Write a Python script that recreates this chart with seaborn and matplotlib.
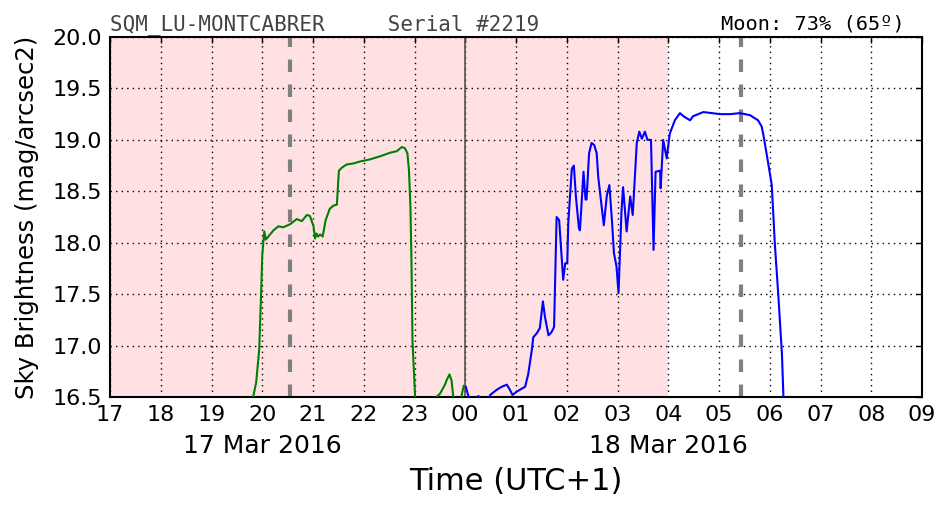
import numpy as np
import pandas as pd
import matplotlib
matplotlib.use('Agg')
import matplotlib.pyplot as plt
import matplotlib.transforms as mtransforms
import seaborn as sns

# Night 17->18 Mar 2016, hours counted from 00h of 17 Mar (24 = 00h of 18 Mar)
green_t = [19.70, 19.82, 19.88, 19.94, 19.98, 20.00, 20.04, 20.07, 20.22, 20.32,
           20.41, 20.55, 20.68, 20.78, 20.88, 20.94, 21.01, 21.04, 21.07, 21.10,
           21.14, 21.19, 21.25, 21.33, 21.40, 21.47, 21.51, 21.57, 21.66, 21.79,
           21.93, 22.12, 22.32, 22.52, 22.65, 22.75, 22.81, 22.86, 22.89, 22.92,
           22.94, 22.96, 23.01, 23.05, 23.40, 23.45, 23.50, 23.60, 23.63, 23.69,
           23.73, 23.76, 23.80, 23.90, 23.93, 23.97]
green_m = [16.20, 16.50, 16.64, 16.96, 17.54, 17.88, 18.11, 18.03, 18.12, 18.16,
           18.15, 18.18, 18.23, 18.21, 18.27, 18.26, 18.16, 18.04, 18.09, 18.06,
           18.08, 18.06, 18.22, 18.33, 18.36, 18.37, 18.70, 18.73, 18.76, 18.77,
           18.79, 18.81, 18.84, 18.875, 18.89, 18.93, 18.92, 18.87, 18.71, 18.35,
           17.83, 17.05, 16.52, 16.20, 16.30, 16.51, 16.53, 16.62, 16.66, 16.72,
           16.66, 16.52, 16.30, 16.35, 16.52, 16.61]

blue_t = [24.01, 24.05, 24.10, 24.20, 24.26, 24.32, 24.45, 24.49, 24.62, 24.72,
          24.82, 24.88, 24.93, 25.01, 25.11, 25.18, 25.24, 25.31, 25.34, 25.41,
          25.47, 25.53, 25.57, 25.64, 25.70, 25.75, 25.80, 25.85, 25.93, 25.97,
          26.01, 26.03, 26.10, 26.14, 26.18, 26.24, 26.26, 26.33, 26.37, 26.39,
          26.44, 26.49, 26.54, 26.59, 26.62, 26.73, 26.79, 26.84, 26.89, 26.93,
          26.98, 27.02, 27.08, 27.11, 27.18, 27.25, 27.30, 27.38, 27.43, 27.48,
          27.54, 27.59, 27.66, 27.71, 27.75, 27.84, 27.85, 27.90, 27.97, 28.03,
          28.13, 28.23, 28.30, 28.43, 28.49, 28.69, 28.86, 29.02, 29.22, 29.41,
          29.61, 29.77, 29.84, 29.87, 29.94, 30.04, 30.10, 30.17, 30.24, 30.27,
          30.30]
blue_m = [16.60, 16.53, 16.45, 16.48, 16.51, 16.47, 16.45, 16.52, 16.57, 16.60,
          16.62, 16.57, 16.52, 16.55, 16.58, 16.60, 16.72, 16.95, 17.08, 17.12,
          17.17, 17.43, 17.28, 17.10, 17.13, 17.18, 18.25, 18.22, 17.64, 17.80,
          17.80, 18.19, 18.72, 18.75, 18.45, 18.14, 18.12, 18.69, 18.42, 18.42,
          18.87, 18.97, 18.95, 18.87, 18.64, 18.17, 18.46, 18.56, 18.22, 17.90,
          17.77, 17.51, 18.32, 18.54, 18.11, 18.45, 18.27, 18.97, 19.08, 19.01,
          19.08, 19.00, 19.00, 17.93, 18.69, 18.70, 18.53, 19.00, 18.82, 19.06,
          19.19, 19.26, 19.23, 19.19, 19.23, 19.27, 19.26, 19.25, 19.25, 19.26,
          19.24, 19.19, 19.13, 19.06, 18.86, 18.56, 17.99, 17.48, 16.92, 16.50,
          16.20]

shade_span = (17.0, 28.0)       # pink band, 17h -> 04h
dashed_lines = [20.55, 29.43]   # grey dashed markers
midnight = 24.0
x_ticks = list(range(17, 34))
y_ticks = [16.5, 17.0, 17.5, 18.0, 18.5, 19.0, 19.5, 20.0]
date_labels = {20: '17 Mar 2016', 28: '18 Mar 2016'}

sns.set_style('white', {'xtick.direction': 'in', 'ytick.direction': 'in',
                        'text.color': 'black', 'axes.labelcolor': 'black'})
plt.rcParams['font.family'] = ['DejaVu Sans']
plt.rcParams['lines.scale_dashes'] = False

fig = plt.figure(figsize=(9.52, 5.12), dpi=100)
ax = fig.add_axes([110 / 952, 1 - 397 / 512, 812 / 952, 360 / 512])

ax.axvspan(*shade_span, color='#ffe1e4', lw=0, zorder=0)

df_g = pd.DataFrame({'t': green_t, 'm': green_m})
df_b = pd.DataFrame({'t': blue_t, 'm': blue_m})
sns.lineplot(data=df_g, x='t', y='m', color='green', lw=1.5, estimator=None,
             sort=False, ax=ax, zorder=3)
sns.lineplot(data=df_b, x='t', y='m', color='blue', lw=1.5, estimator=None,
             sort=False, ax=ax, zorder=3)

ax.axvline(midnight, color='#555555', lw=1.2, zorder=2)
for xd in dashed_lines:
    ax.axvline(xd, color='gray', lw=3, dashes=(9, 9), zorder=2)

ax.set_xlim(17, 33)
ax.set_ylim(16.5, 20.0)
ax.set_xticks(x_ticks)
ax.set_xticklabels([f'{h % 24:02d}' for h in x_ticks])
ax.set_yticks(y_ticks)
ax.set_yticklabels([f'{v:.1f}' for v in y_ticks])
ax.tick_params(labelsize=16, length=4, width=1, top=True, right=True,
               direction='in', pad=6, colors='black')
ax.grid(True, color='black', linestyle=(0, (1, 3)), lw=1)
for s in ax.spines.values():
    s.set_visible(True)
    s.set_color('black')
    s.set_linewidth(1.5)

trans = mtransforms.blended_transform_factory(ax.transData, ax.transAxes)
for xd, txt in date_labels.items():
    ax.text(xd, -0.135, txt, transform=trans, ha='center', va='center',
            fontsize=18, color='black')

ax.set_xlabel('Time (UTC+1)', fontsize=22, color='black')
ax.xaxis.set_label_coords(0.5, -0.195)
ax.set_ylabel('Sky Brightness (mag/arcsec2)', fontsize=17.5, color='black')
ax.yaxis.set_label_coords(-0.088, 0.5)

ax.text(0.0, 1.02, 'SQM_LU-MONTCABRER     Serial #2219', transform=ax.transAxes,
        ha='left', va='baseline', fontsize=15, family='DejaVu Sans Mono',
        color='#444444', zorder=6)
ax.text(0.979, 1.02, 'Moon: 73% (65º)', transform=ax.transAxes,
        ha='right', va='baseline', fontsize=14.6, family='DejaVu Sans Mono',
        color='black', zorder=6)

fig.savefig('out.png', dpi=100)
